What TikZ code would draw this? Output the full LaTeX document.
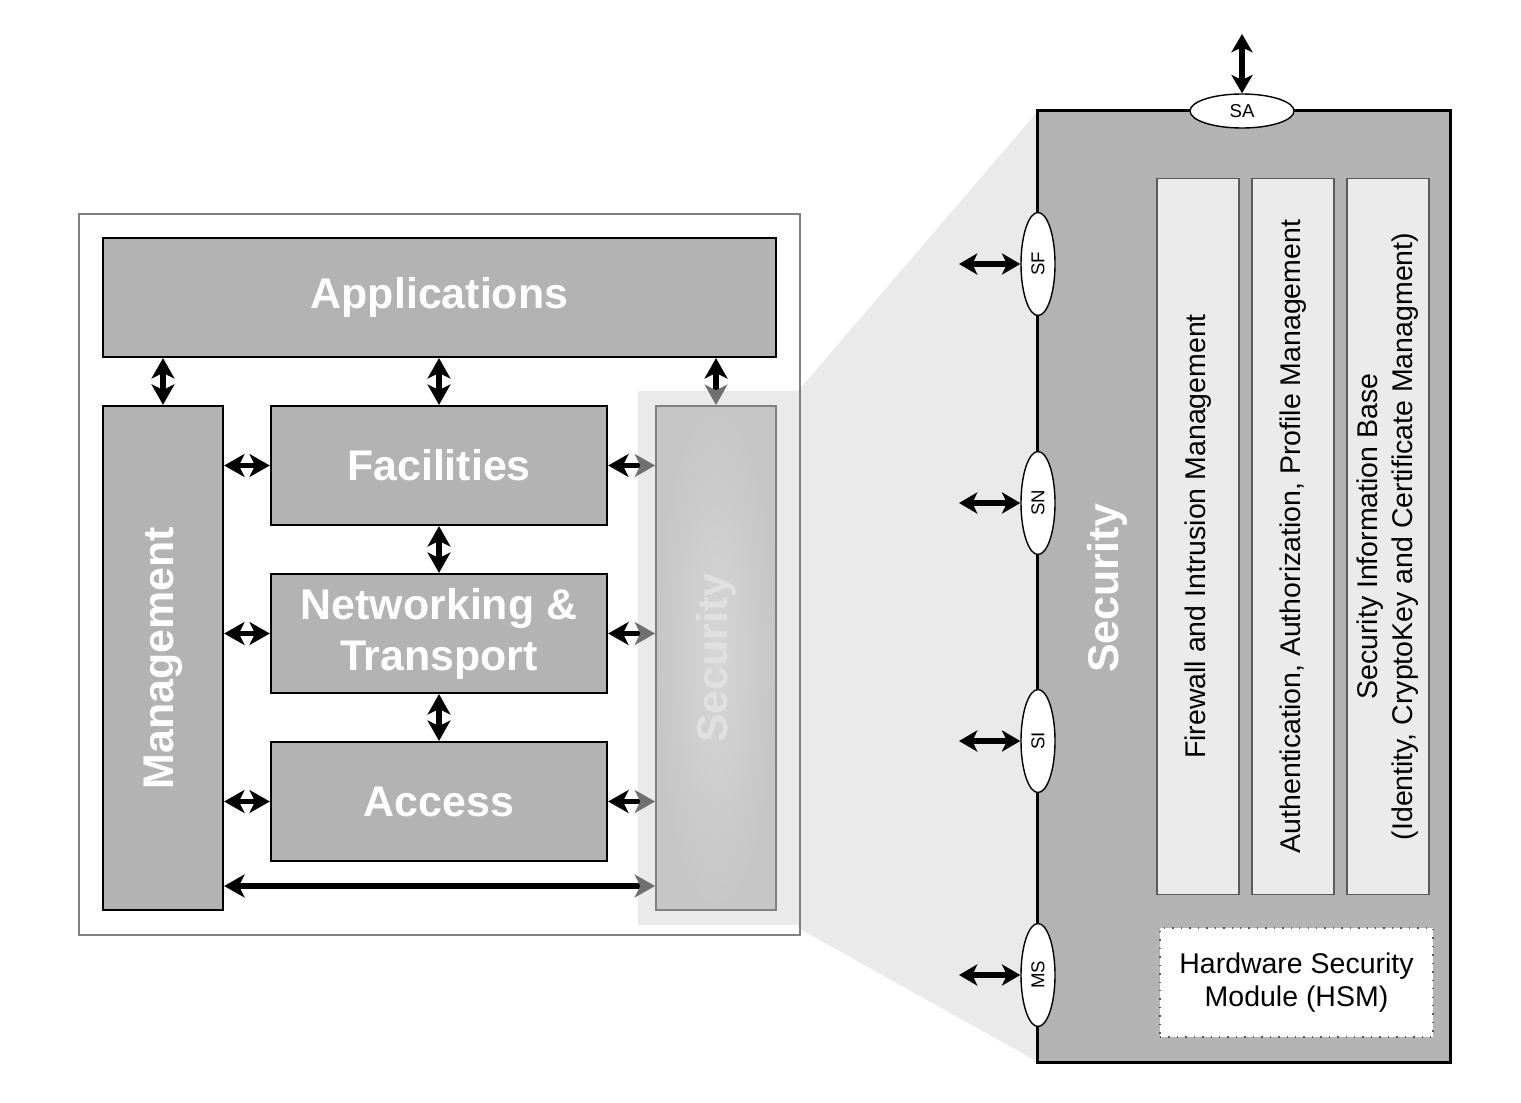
\documentclass[tikz,border=0pt]{standalone}
\usepackage{fontspec}
\setmainfont{Liberation Sans}
\usetikzlibrary{arrows.meta,shapes.geometric}
\definecolor{boxgray}{RGB}{179,179,179}
\definecolor{lightbg}{RGB}{234,234,234}
\definecolor{colfill}{RGB}{235,235,235}
\definecolor{fadedA}{RGB}{198,198,198}
\definecolor{fadedB}{RGB}{214,214,214}
\definecolor{fadetext}{RGB}{224,224,224}
\definecolor{headgray}{RGB}{112,112,112}
\definecolor{framegray}{RGB}{128,128,128}
\definecolor{colborder}{RGB}{90,90,90}
\begin{document}
\begin{tikzpicture}[x=0.01cm,y=-0.01cm,
  bigfont/.style={font=\bfseries\fontsize{12.2}{14.5}\selectfont},
  smallfont/.style={font=\fontsize{8.1}{10}\selectfont},
  layerbox/.style={draw=black, line width=0.6pt, fill=boxgray, text=white, bigfont, inner sep=0pt, align=center},
  fadedbox/.style={draw=framegray, line width=0.5pt, inner color=fadedB, outer color=fadedA, text=fadetext, bigfont, inner sep=0pt},
  colbox/.style={draw=colborder, line width=0.4pt, fill=colfill, inner sep=0pt},
  coltext/.style={rotate=90, smallfont, align=center, text=black},
  hsmbox/.style={draw=colborder, dotted, line width=0.4pt, fill=white, inner sep=0pt, align=center, font=\fontsize{8.1}{9.4}\selectfont},
  port/.style={ellipse, draw=black, line width=0.4pt, fill=white, inner sep=0pt, font=\fontsize{5.3}{6}\selectfont},
  tipA/.tip={Stealth[length=5.8pt,width=6.5pt,inset=1.6pt]},
  tipG/.tip={Stealth[length=5.8pt,width=6.5pt,inset=1.6pt,color=headgray]},
  tipB/.tip={Stealth[length=5.2pt,width=6pt,inset=1.4pt]},
  dar/.style={line width=1.5pt, tipA-tipA},
  darg/.style={line width=1.5pt, tipA-tipG},
  dport/.style={line width=1.6pt, tipB-tipB}
]
\useasboundingbox (0,0) rectangle (1521,1103);

% wedge and highlight
\fill[lightbg] (798,391) -- (1038,111) -- (1038,1062) -- (798,928) -- cycle;
\fill[lightbg] (638,391) rectangle (799,925);

% outer frame
\node[draw=framegray, line width=0.45pt, minimum width=7.21cm, minimum height=7.21cm, inner sep=0pt] (frame) at (439.5,574.5) {};

% left layer boxes
\node[layerbox, minimum width=6.73cm, minimum height=1.19cm] (app) at (439.5,297.5) {Applications};
\node[layerbox, minimum width=1.20cm, minimum height=5.04cm] (mgmt) at (163,658) {\rotatebox{90}{Management}};
\node[layerbox, minimum width=3.36cm, minimum height=1.19cm] (fac) at (439,465.5) {Facilities};
\node[layerbox, minimum width=3.36cm, minimum height=1.19cm] (net) at (439,633.5) {Networking \&\\Transport};
\node[layerbox, minimum width=3.36cm, minimum height=1.19cm] (acc) at (439,801.5) {Access};
\node[fadedbox, minimum width=1.20cm, minimum height=5.04cm] (secf) at (716,658) {\rotatebox{90}{Security}};

% left arrows
\draw[dar] (mgmt.north |- app.south) -- (mgmt.north);
\draw[dar] (app.south -| fac.north) -- (fac.north);
\draw[darg] (app.south -| secf.north) -- (secf.north);
\draw[dar] (fac.south) -- (net.north);
\draw[dar] (net.south) -- (acc.north);
\draw[dar] (mgmt.east |- fac.west) -- (fac.west);
\draw[dar] (mgmt.east |- net.west) -- (net.west);
\draw[dar] (mgmt.east |- acc.west) -- (acc.west);
\draw[darg] (fac.east) -- (fac.east -| secf.west);
\draw[darg] (net.east) -- (net.east -| secf.west);
\draw[darg] (acc.east) -- (acc.east -| secf.west);
\coordinate (longy) at (0,886);
\draw[darg] (mgmt.east |- longy) -- (secf.west |- longy);

% big security box
\node[draw=black, line width=0.8pt, fill=boxgray, minimum width=4.12cm, minimum height=9.51cm, inner sep=0pt] (secbig) at (1244,586.5) {};
\node[rotate=90, text=white, bigfont] (sectitle) at (1107,588) {Security};

\node[colbox, minimum width=0.82cm, minimum height=7.15cm] (col1) at (1198,536.5) {};
\node[colbox, minimum width=0.82cm, minimum height=7.15cm] (col2) at (1293,536.5) {};
\node[colbox, minimum width=0.82cm, minimum height=7.15cm] (col3) at (1388,536.5) {};
\node[coltext] (t1) at (col1.center) {Firewall and Intrusion Management};
\node[coltext] (t2) at (col2.center) {Authentication, Authorization, Profile Management};
\node[coltext] (t3) at (col3.center) {Security Information Base\\(Identity, CryptoKey and Certificate Managment)};

\node[hsmbox, minimum width=2.73cm, minimum height=1.09cm] (hsm) at (1296.5,982.5) {Hardware Security\\Module (HSM)};

% ports
\node[port, minimum width=1.04cm, minimum height=0.34cm] (sa) at (1242,111) {SA};
\node[port, minimum width=0.34cm, minimum height=1.03cm] (sf) at (1038,264) {\rotatebox{90}{SF}};
\node[port, minimum width=0.34cm, minimum height=1.03cm] (sn) at (1038,503) {\rotatebox{90}{SN}};
\node[port, minimum width=0.34cm, minimum height=1.03cm] (si) at (1038,741) {\rotatebox{90}{SI}};
\node[port, minimum width=0.34cm, minimum height=1.03cm] (ms) at (1038,975) {\rotatebox{90}{MS}};

\coordinate (saT) at (1242,34);
\coordinate (sfL) at (959,264);
\coordinate (snL) at (959,503);
\coordinate (siL) at (959,741);
\coordinate (msL) at (959,975);
\draw[dport] (saT) -- (sa.north);
\draw[dport] (sfL) -- (sf.west);
\draw[dport] (snL) -- (sn.west);
\draw[dport] (siL) -- (si.west);
\draw[dport] (msL) -- (ms.west);
\end{tikzpicture}
\end{document}
